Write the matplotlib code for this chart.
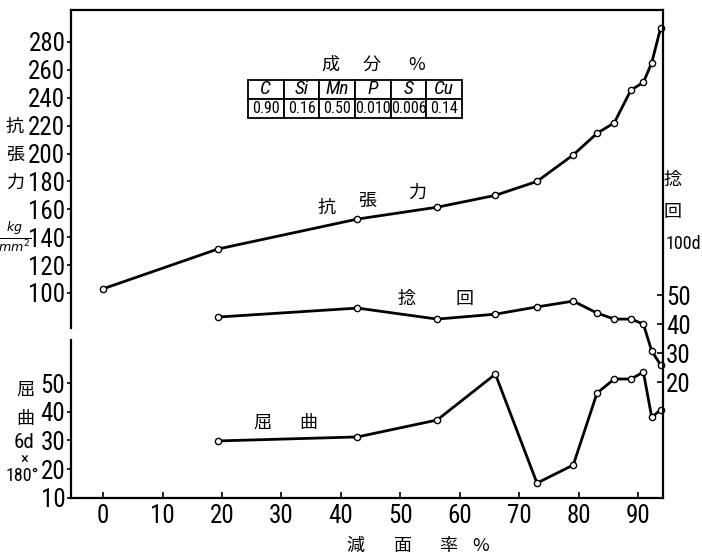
import numpy as np
import matplotlib
matplotlib.use("Agg")
import matplotlib.pyplot as plt
from matplotlib import font_manager

# Data (reduction of area in %, tensile strength in kg/mm2,
# torsion number per 100d and bending number per 6d x 180deg)
Reduction = [19.3, 42.8, 56.2, 66.0, 73.0, 79.1, 83.1, 86.0, 88.8, 90.9, 92.3, 93.8]
Reduction_Tensile = [0] + Reduction
Tensile = [103, 131.5, 153, 161.5, 170, 180, 199, 214.5, 222, 245.5, 251, 265, 290]
Torsion = [42.4, 45.5, 41.7, 43.4, 45.9, 47.9, 43.8, 41.7, 41.7, 40.0, 30.7, 25.9]
Bending = [29.8, 31.2, 37.1, 53.1, 15.1, 21.4, 46.5, 51.4, 51.4, 53.8, 38.1, 40.6]

X_Ticks = list(range(0, 100, 10))
Tensile_Ticks = list(range(100, 300, 20))
Torsion_Ticks = [20, 30, 40, 50]
Bending_Ticks = [10, 20, 30, 40, 50]

Elements = ["C", "Si", "Mn", "P", "S", "Cu"]
Contents = ["0.90", "0.16", "0.50", "0.010", "0.006", "0.14"]

# Picking a narrow face for the digits if one is installed
Fonts = font_manager.fontManager.ttflist
Names = {f.name for f in Fonts}
Stretch = "normal"
if "Liberation Sans Narrow" in Names:
    Num_Family = "Liberation Sans Narrow"
elif "Roboto Condensed" in Names:
    Num_Family = "Roboto Condensed"
elif any(f.name == "DejaVu Sans" and f.stretch == "condensed" for f in Fonts):
    Num_Family = "DejaVu Sans"
    Stretch = "condensed"
else:
    Num_Family = "Liberation Sans"
NUM = [Num_Family, "DejaVu Sans"]
JP = ["Noto Sans CJK JP", "DejaVu Sans"]
W, H = 702, 560


def px(x, y):
    # pixel position on the figure -> figure fraction
    return x / W, 1 - y / H


fig = plt.figure(figsize=(W / 100, H / 100), dpi=100)
ax = fig.add_axes([71 / W, 1 - 498 / H, 592 / W, 488 / H])
ax_b = ax.twinx()
ax_t = ax.twinx()

Line_Style = dict(color="black", lw=2.0, marker="o", ms=4.5, mfc="white", mec="black", mew=1.0, clip_on=False)
ax.plot(Reduction_Tensile, Tensile, **Line_Style)
ax_t.plot(Reduction, Torsion, **Line_Style)
ax_b.plot(Reduction, Bending, **Line_Style)

# Scales
ax.set_xlim(-5.4, 94.2)
ax.set_ylim(-47.0, 302.9)
ax_b.set_ylim(9.9, 180.1)
ax_t.set_ylim(-20.0, 148.3)

ax.set_xticks(X_Ticks)
ax.set_yticks(Tensile_Ticks)
ax_b.set_yticks(Bending_Ticks)
ax_t.set_yticks(Torsion_Ticks)

# Bending scale sits on the left side, below the tensile one
ax_b.yaxis.set_ticks_position("left")
ax_b.yaxis.set_label_position("left")

for a in (ax, ax_b, ax_t):
    for s in a.spines.values():
        s.set_linewidth(1.6)
ax.spines["left"].set_bounds(74.9, 302.9)
ax_b.spines["left"].set_bounds(9.9, 65)
for s in ("right", "top", "bottom"):
    ax_b.spines[s].set_visible(False)
for s in ("left", "top", "bottom"):
    ax_t.spines[s].set_visible(False)
ax.spines["right"].set_visible(False)

ax.tick_params(axis="x", direction="in", length=4, width=1.2, pad=4)
ax.tick_params(axis="y", direction="out", length=3, width=1.2, pad=1)
ax_b.tick_params(axis="y", direction="out", length=3, width=1.2, pad=1)
ax_t.tick_params(axis="y", direction="in", length=4, width=1.2, pad=2)
for a in (ax, ax_b, ax_t):
    for lab in a.get_xticklabels() + a.get_yticklabels():
        lab.set_family(NUM)
        lab.set_fontstretch(Stretch)
        lab.set_fontsize(18)

# Axis titles
for ch, y in zip(["抗", "張", "力"], [127, 155, 183]):
    fig.text(*px(15, y), ch, family=JP, fontsize=13, ha="center", va="center")
fig.text(*px(15, 237), r"$\frac{kg}{mm^2}$", fontsize=13, ha="center", va="center")
for ch, y in zip(["屈", "曲"], [390, 419]):
    fig.text(*px(25, y), ch, family=JP, fontsize=13, ha="center", va="center")
fig.text(*px(24, 443), "6d", family=NUM, fontstretch=Stretch, fontsize=15, ha="center", va="center")
fig.text(*px(24, 459), "×", family=NUM, fontsize=12, ha="center", va="center")
fig.text(*px(22, 476), "180°", family=NUM, fontstretch=Stretch, fontsize=13, ha="center", va="center")

fig.text(*px(673, 180), "捻", family=JP, fontsize=13, ha="center", va="center")
fig.text(*px(673, 212), "回", family=JP, fontsize=13, ha="center", va="center")
fig.text(*px(683, 244), "100d", family=NUM, fontstretch=Stretch, fontsize=13, ha="center", va="center")

for ch, x in zip(["減", "面", "率", "%"], [355, 403, 448, 481]):
    fig.text(*px(x, 546), ch, family=JP, fontsize=13, ha="center", va="center")

# Curve labels
for ch, (x, y) in zip(["抗", "張", "力"], [(327, 208), (367, 201), (417, 193)]):
    fig.text(*px(x, y), ch, family=JP, fontsize=13, ha="center", va="center")
for ch, (x, y) in zip(["捻", "回"], [(407, 299), (465, 299)]):
    fig.text(*px(x, y), ch, family=JP, fontsize=13, ha="center", va="center")
for ch, (x, y) in zip(["屈", "曲"], [(262, 423), (308, 423)]):
    fig.text(*px(x, y), ch, family=JP, fontsize=13, ha="center", va="center")

# Chemical composition table
for ch, x in zip(["成", "分", "%"], [330, 372, 417]):
    fig.text(*px(x, 65), ch, family=JP, fontsize=13, ha="center", va="center")
Table = ax.table(cellText=[Contents], colLabels=Elements, cellLoc="center",
                 bbox=[177 / 592, 380 / 488, 214 / 592, 38 / 488])
Table.auto_set_font_size(False)
for (r, c), cell in Table.get_celld().items():
    cell.set_linewidth(1.3)
    cell.set_edgecolor("black")
    cell.PAD = 0.02
    t = cell.get_text()
    t.set_family(NUM)
    t.set_fontstretch(Stretch)
    if r == 0:
        t.set_fontsize(14)
        t.set_fontstyle("italic")
    else:
        t.set_fontsize(11.5)

fig.savefig("out.png", dpi=100)
